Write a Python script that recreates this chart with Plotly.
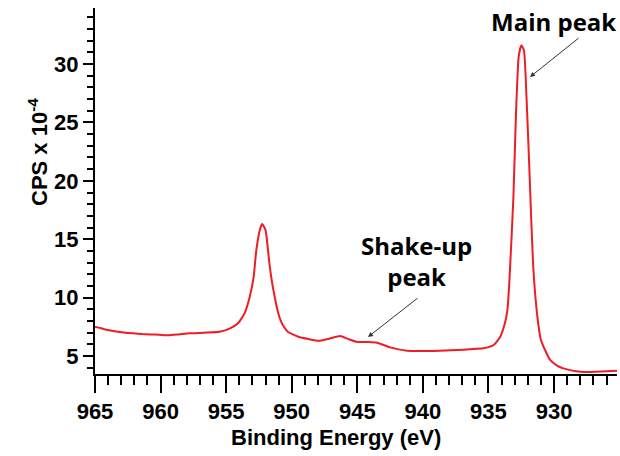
import plotly.graph_objects as go

# Binding energy (eV) and counts (CPS x 10^-4)
energy = [965.0, 964.3, 963.6, 962.8, 962.1, 961.4, 960.8, 960.1, 959.4, 958.6,
          957.8, 956.7, 955.5, 954.7, 954.1, 953.6, 953.2, 952.9, 952.7, 952.4,
          952.25, 952.0, 951.85, 951.7, 951.5, 951.3, 951.1, 950.9, 950.6, 950.3,
          949.5, 948.7, 947.9, 947.1, 946.3, 945.7, 945.1, 944.3, 943.5, 942.5,
          941.2, 940.2, 939.2, 938.3, 937.4, 936.4, 935.4, 934.6, 934.1, 933.75,
          933.55, 933.4, 933.1, 932.9, 932.7, 932.5, 932.3, 932.1, 931.85, 931.6,
          931.3, 931.0, 930.6, 930.3, 929.8, 929.3, 928.6, 928.0, 927.4, 926.8,
          926.0, 925.2]
cps = [7.50, 7.30, 7.14, 7.02, 6.94, 6.88, 6.85, 6.82, 6.77, 6.85,
       6.94, 7.00, 7.08, 7.37, 7.80, 8.65, 10.08, 11.8, 14.07, 15.93,
       16.3, 15.8, 14.5, 12.9, 11.3, 10.08, 9.0, 8.2, 7.5, 7.08,
       6.65, 6.45, 6.31, 6.5, 6.71, 6.45, 6.23, 6.2, 6.14, 5.74,
       5.45, 5.42, 5.43, 5.47, 5.51, 5.58, 5.66, 5.94, 6.65, 7.8,
       9.0, 11.5, 18.6, 25.8, 30.6, 31.6, 31.2, 27.2, 20.07, 12.9,
       8.65, 6.37, 5.3, 4.66, 4.2, 3.94, 3.75, 3.66, 3.64, 3.66,
       3.70, 3.74]

x_ticks = [965, 960, 955, 950, 945, 940, 935, 930]
y_ticks = [5, 10, 15, 20, 25, 30, 35]

fig = go.Figure()
fig.add_trace(go.Scatter(x=energy, y=cps, mode="lines",
                         line=dict(color="#ee1c25", width=2, shape="spline", smoothing=0.5),
                         showlegend=False))

tickfont = dict(family="Liberation Sans, Arial", size=22, color="black", weight="bold")

fig.update_layout(
    width=620, height=456,
    margin=dict(l=95, r=3, t=8, b=82),
    paper_bgcolor="white", plot_bgcolor="white",
    xaxis=dict(range=[965, 925.2], tickvals=x_ticks, ticks="outside", ticklen=17,
               tickwidth=2, tickcolor="black", showline=True, linewidth=2,
               linecolor="black", showgrid=False, zeroline=False, tickfont=tickfont,
               automargin=False,
               minor=dict(dtick=1, ticks="outside", ticklen=9, tickwidth=2,
                          tickcolor="black", showgrid=False)),
    yaxis=dict(range=[3.46, 34.8], tickvals=y_ticks, ticks="outside", ticklen=10,
               tickwidth=2, tickcolor="black", showline=True, linewidth=2,
               linecolor="black", showgrid=False, zeroline=False, tickfont=tickfont,
               automargin=False,
               minor=dict(dtick=1, ticks="outside", ticklen=6, tickwidth=2,
                          tickcolor="black", showgrid=False)),
)

title_font = dict(family="Liberation Sans, Arial", size=22, color="black", weight="bold")
label_font = dict(family="Open Sans", size=24, color="black", weight="bold")

def px_x(p):
    return (p - 95) / 522.0

def px_y(p):
    return (374 - p) / 366.0

annotations = [
    dict(text="Binding Energy (eV)", xref="paper", yref="paper",
         x=px_x(336), y=px_y(437), showarrow=False, font=title_font,
         xanchor="center", yanchor="middle"),
    dict(text="CPS x 10<sup>-4</sup>", xref="paper", yref="paper",
         x=px_x(38), y=px_y(152), showarrow=False, font=title_font,
         textangle=-90, xanchor="center", yanchor="middle"),
    dict(text="Main peak", xref="paper", yref="paper",
         x=px_x(553), y=px_y(21), showarrow=False, font=label_font,
         xanchor="center", yanchor="middle"),
    dict(text="Shake-up<br>peak", xref="paper", yref="paper",
         x=px_x(416), y=px_y(261), showarrow=False, font=label_font,
         xanchor="center", yanchor="middle"),
    dict(text="", xref="paper", yref="paper", x=px_x(530), y=px_y(77),
         ax=50, ay=-40, showarrow=True, arrowhead=2, arrowsize=1,
         arrowwidth=1, arrowcolor="#333333", standoff=0),
    dict(text="", xref="paper", yref="paper", x=px_x(368), y=px_y(337),
         ax=51, ay=-40, showarrow=True, arrowhead=2, arrowsize=1,
         arrowwidth=1, arrowcolor="#333333", standoff=0),
]
fig.update_layout(annotations=annotations)

fig.write_html("out.html", config={"displayModeBar": False},
               post_script="document.body.style.margin='0';")
